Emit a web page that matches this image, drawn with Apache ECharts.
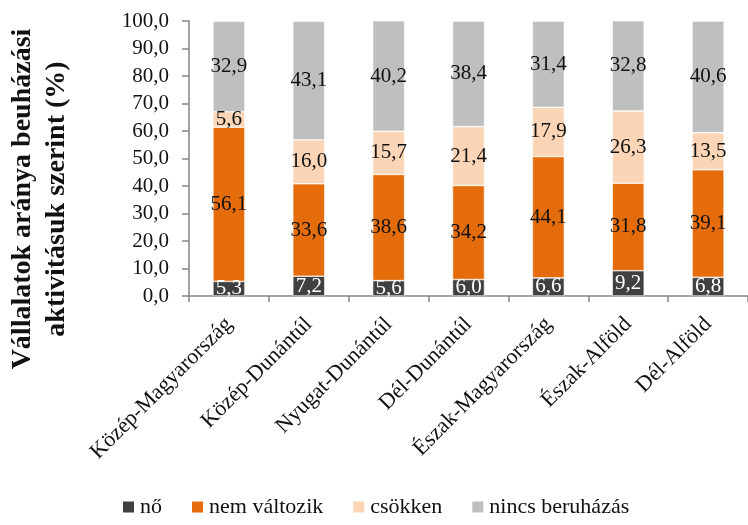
<!DOCTYPE html>
<html>
<head>
<meta charset="utf-8">
<script src="https://cdn.jsdelivr.net/npm/echarts@6/dist/echarts.min.js"></script>
<style>
  html, body { margin: 0; padding: 0; background: #fff; }
  #chart { width: 748px; height: 525px; }
</style>
</head>
<body>
<div id="chart"></div>
<script>
// régiók
const regions = ["Közép-Magyarország", "Közép-Dunántúl", "Nyugat-Dunántúl", "Dél-Dunántúl",
  "Észak-Magyarország", "Észak-Alföld", "Dél-Alföld"];
const no = [5.3, 7.2, 5.6, 6.0, 6.6, 9.2, 6.8];
const nemValtozik = [56.1, 33.6, 38.6, 34.2, 44.1, 31.8, 39.1];
const csokken = [5.6, 16.0, 15.7, 21.4, 17.9, 26.3, 13.5];
const nincs = [32.9, 43.1, 40.2, 38.4, 31.4, 32.8, 40.6];
const seriesNames = ["nő", "nem változik", "csökken", "nincs beruházás"];
const colors = ["#404040", "#E46C0A", "#FBD5B5", "#BFBFBF"];

const font = "'Liberation Serif', 'DejaVu Serif', serif";
const fmt = (v) => v.toFixed(1).replace(".", ",");

const chart = echarts.init(document.getElementById("chart"));

function bar(name, data, idx) {
  return {
    name: name,
    type: "bar",
    stack: "all",
    data: data,
    barWidth: 32,
    itemStyle: { color: colors[idx], borderColor: "#fff", borderWidth: 0.6 },
    label: {
      show: true,
      position: "inside",
      fontFamily: font,
      fontSize: 21,
      color: idx === 0 ? "#fff" : "#111",
      formatter: (p) => fmt(p.value),
    },
  };
}

const option = {
  animation: false,
  textStyle: { fontFamily: font },
  grid: { left: 189, right: -21, top: 21, bottom: 229, containLabel: false },
  legend: {
    bottom: 2,
    left: 116,
    itemWidth: 13,
    itemHeight: 13,
    itemGap: 28,
    icon: "rect",
    textStyle: { fontFamily: font, fontSize: 22, color: "#111" },
    data: seriesNames,
  },
  xAxis: {
    type: "category",
    data: regions,
    axisLine: { lineStyle: { color: "#868686", width: 1.5 } },
    axisTick: { show: true, length: 6, lineStyle: { color: "#868686", width: 1.5 } },
    axisLabel: {
      rotate: 45,
      interval: 0,
      margin: 25,
      fontFamily: font,
      fontSize: 22,
      color: "#111",
    },
  },
  yAxis: {
    type: "value",
    min: 0,
    max: 100,
    interval: 10,
    axisLine: { show: true, lineStyle: { color: "#868686", width: 1.5 } },
    axisTick: { show: true, length: 7, lineStyle: { color: "#868686", width: 1.5 } },
    splitLine: { show: false },
    axisLabel: {
      margin: 20,
      fontFamily: font,
      fontSize: 21,
      color: "#111",
      formatter: (v) => fmt(v),
    },
  },
  graphic: [
    {
      type: "text",
      x: 40,
      y: 199,
      rotation: Math.PI / 2,
      style: {
        text: "Vállalatok aránya beuházási\naktivitásuk szerint (%)",
        font: "bold 28px " + font,
        fill: "#111",
        align: "center",
        verticalAlign: "middle",
        lineHeight: 34,
      },
    },
  ],
  series: [
    bar(seriesNames[0], no, 0),
    bar(seriesNames[1], nemValtozik, 1),
    bar(seriesNames[2], csokken, 2),
    bar(seriesNames[3], nincs, 3),
  ],
};

chart.setOption(option);
</script>
</body>
</html>
